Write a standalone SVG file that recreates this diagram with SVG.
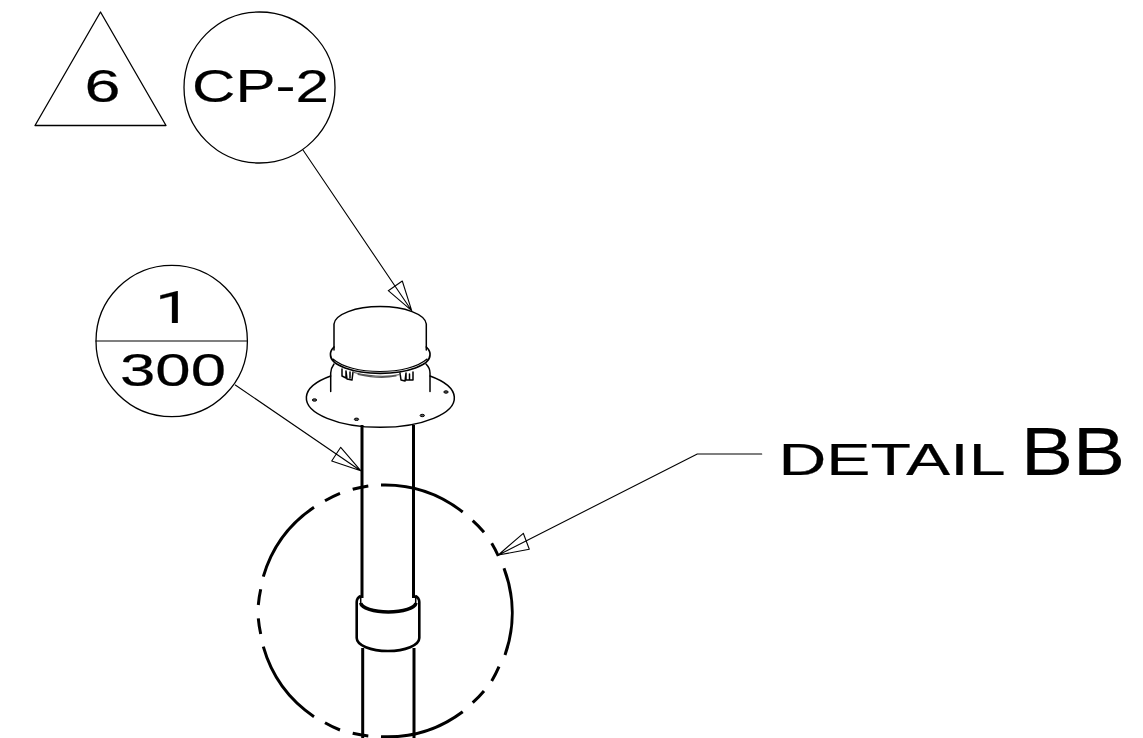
<svg xmlns="http://www.w3.org/2000/svg" width="1143" height="738" viewBox="0 0 1143 738">
<style>
text{font-family:"Liberation Sans",Arial,sans-serif;fill:#000;stroke:#000;stroke-width:.2;text-anchor:start}
.s{fill:none;stroke:#000;stroke-width:1.1;stroke-linejoin:round;stroke-linecap:round}
.m{fill:none;stroke:#000;stroke-width:1.5;stroke-linecap:round}
.t{fill:none;stroke:#000;stroke-width:3;stroke-linecap:butt}
.d{fill:none;stroke:#000;stroke-width:3;stroke-linecap:butt}
</style>
<rect width="1143" height="738" fill="#fff"/>
<g id="pipe">
<path class="t" d="M362,425V598M413.5,425V598M362.7,648V738M414,648V738"/>
</g>
<g id="detail-circle">
<path class="d" d="M352.7,489.3A126,126 0 0 1 368.3,486M381,485A126,126 0 0 1 462.7,512M472.7,520.7A126,126 0 0 1 484,532.3M491.7,543.3A126,126 0 0 1 498.3,556M504,568.3A126,126 0 0 1 505,655M499,666.7A126,126 0 0 1 491.7,681M484,691A126,126 0 0 1 472.7,702.7M462.7,711.7A126,126 0 0 1 381,736.7M368.3,736A126,126 0 0 1 352.7,733.3M340,730A126,126 0 0 1 325,722.7M314,716.7A126,126 0 0 1 263.3,646.7M260.7,634A126,126 0 0 1 258.3,618.3M258.3,605A126,126 0 0 1 260.7,589.3M263.3,576.7A126,126 0 0 1 314,507.3M325,500.7A126,126 0 0 1 340,493.3"/>
</g>
<g id="coupling">
<path class="d" style="stroke-width:2.6" d="M360.7,596Q356.7,598 356.7,602V638A31.3,13 0 0 0 419.3,638V602Q419.3,598 415.3,596"/>
<path class="s" style="stroke-width:1.5" d="M360.7,596V604M415.7,596V604"/>
<path class="d" style="stroke-width:3.6" d="M360.7,603A27.7,9.5 0 0 0 416,603"/>
</g>
<g id="cap">
<path class="m" d="M334,350V324A46.2,18.3 0 0 1 426.3,324V350"/>
<path class="m" style="stroke-width:1.7" d="M334,347Q330,351 330.5,355A49.7,18.3 0 0 0 430,355Q430.5,351 426.3,347"/>
<path class="s" d="M333,359C342,367 360,371.5 380,371.5S418,367 427,359"/>
<path class="m" d="M330.7,391.5V373Q331,368 334,364M430,391.5V373Q430,368 426,364"/>
<path class="m" d="M330.7,376A74,29.5 0 1 0 430,376"/>
<path class="s" style="stroke-width:1.5" d="M342,369V376L346,378V371M346,371L347,379L352,380L353,372M350,372V378M400,373L401,380L405,381L406,373M406,373V380H413V372M409.5,374V380"/>
<path class="s" style="stroke:#555" d="M354,372.5Q380,379 400,374.5M358,374.5Q380,379.5 396,376"/>
<g fill="#555" stroke="#000" stroke-width="1">
<ellipse cx="314.5" cy="400" rx="2.2" ry="1.2"/>
<ellipse cx="356.5" cy="419.3" rx="2.2" ry="1.2"/>
<ellipse cx="422.3" cy="415.5" rx="2.2" ry="1.2"/>
<ellipse cx="446" cy="392" rx="2.2" ry="1.2"/>
</g>
</g>
<g id="connectors">
<path class="s" d="M303,150L411.7,310.7M402.3,281L411.7,310.7L388.3,290.7Z"/>
<path class="s" d="M235.3,385L360.7,470.7M340.7,447.3L360.7,470.7L331.7,461Z"/>
<path class="s" d="M761.7,454H697.3L498.3,555M523.3,533.3L498.3,555L529.3,549.3Z"/>
</g>
<g id="triangle-6">
<path class="s" style="stroke-width:1.3" d="M100.5,12L166,125.5H35Z"/>
<text x="84.5" y="101.5" font-size="46" textLength="36" lengthAdjust="spacingAndGlyphs">6</text>
</g>
<g id="circle-cp2">
<circle class="s" style="stroke-width:1.3" cx="259.5" cy="87.5" r="75.5"/>
<text x="192" y="101.5" font-size="46" textLength="137" lengthAdjust="spacingAndGlyphs">CP-2</text>
</g>
<g id="circle-1-300">
<circle class="s" style="stroke-width:1.3" cx="171.7" cy="341" r="75.7"/>
<path class="s" d="M96,341H247"/>
<text x="155" y="322.7" font-size="43.5" textLength="36" lengthAdjust="spacingAndGlyphs" style="font-family:Roboto,'Liberation Sans',sans-serif">1</text>
<text x="120" y="386" font-size="46" textLength="106" lengthAdjust="spacingAndGlyphs">300</text>
</g>
<g id="label-detail">
<text x="778.5" y="475" font-size="45" textLength="227" lengthAdjust="spacingAndGlyphs">DETAIL</text>
<text x="1021" y="474.5" font-size="69" textLength="104" lengthAdjust="spacingAndGlyphs">BB</text>
</g>
</svg>
